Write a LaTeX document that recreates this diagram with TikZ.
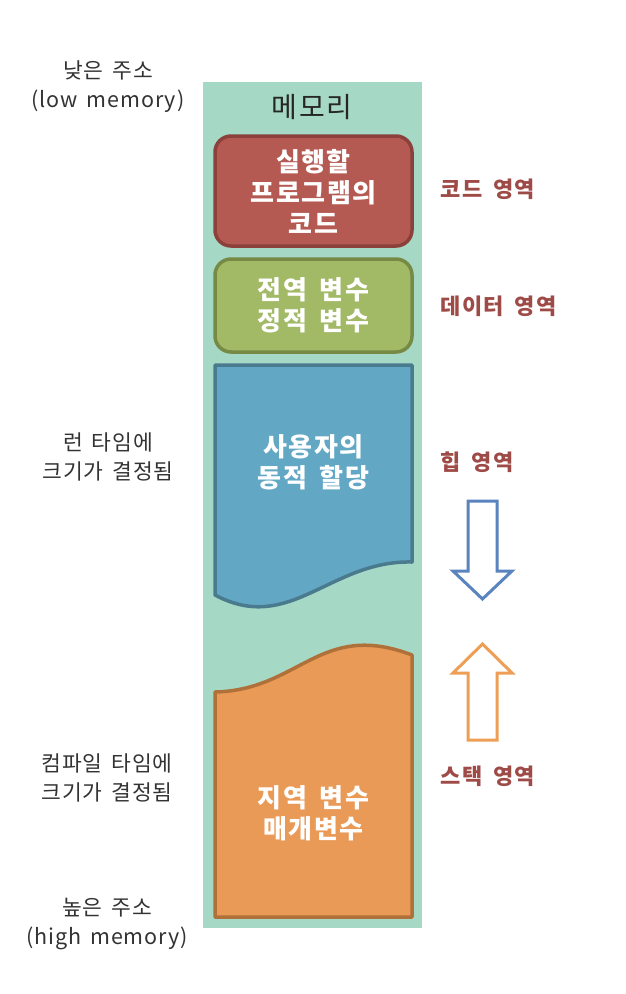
\documentclass[tikz,border=0pt]{standalone}
\usepackage{fontspec}
\setmainfont{Noto Sans CJK KR}
\newfontfamily\krwide[LetterSpace=6,WordSpace=1.7]{Noto Sans CJK KR}
\newfontfamily\krmid[LetterSpace=4,WordSpace=1.6]{Noto Sans CJK KR}
\begin{document}
\begin{tikzpicture}[x=1pt,y=-1pt,
  mem/.style={fill=memc, draw=none},
  boxtext/.style={text=white, font=\krwide\fontsize{26}{31}\selectfont\bfseries, align=center},
  sidelab/.style={text=labc, font=\krwide\fontsize{22}{28}\selectfont\bfseries, anchor=west},
  leftlab/.style={text=black!80, font=\krmid\fontsize{21.5}{29}\selectfont, align=center},
  blockline/.style={line width=3.5pt, line join=round},
  arrowline/.style={line width=3pt, fill=white, line join=miter}]
\definecolor{memc}{HTML}{A6D9C5}
\definecolor{redc}{HTML}{B55A53}
\definecolor{redb}{HTML}{8B403B}
\definecolor{greenc}{HTML}{A2B966}
\definecolor{greenb}{HTML}{768A46}
\definecolor{bluec}{HTML}{62A8C5}
\definecolor{blueb}{HTML}{4A7A8E}
\definecolor{orangec}{HTML}{EA9A57}
\definecolor{orangeb}{HTML}{B07039}
\definecolor{arrb}{HTML}{5A84C0}
\definecolor{arro}{HTML}{EE9F55}
\definecolor{labc}{HTML}{9E4A47}
\useasboundingbox (0,0) rectangle (626,994);
\fill[white] (0,0) rectangle (626,994);
% memory column
\node[mem, minimum width=219pt, minimum height=846pt, anchor=north west, inner sep=0pt] (memory) at (203,82) {};
\node[font=\krwide\fontsize{28}{30}\selectfont, text=black!85] (title) at (312,107) {메모리};
% code box
\draw[blockline, fill=redc, draw=redb, rounded corners=16pt] (215,136) rectangle (412,246);
\node[boxtext] (code) at (313.5,191) {실행할\\프로그램의\\코드};
% data box
\draw[blockline, fill=greenc, draw=greenb, rounded corners=16pt] (215,259) rectangle (412,352);
\node[boxtext] (data) at (313.5,305) {전역 변수\\정적 변수};
% heap
\draw[blockline, fill=bluec, draw=blueb] (215,365) -- (412,365) -- (412,562)
  .. controls (330,560) and (290,635) .. (215,595) -- cycle;
\node[boxtext] (heap) at (313.5,462) {사용자의\\동적 할당};
% stack
\draw[blockline, fill=orangec, draw=orangeb] (215,917) -- (215,692)
  .. controls (300,690) and (320,620) .. (412,655) -- (412,917) -- cycle;
\node[boxtext] (stack) at (313.5,813) {지역 변수\\매개변수};
% arrows
\draw[arrowline, draw=arrb] (468,501) -- (497,501) -- (497,571) -- (512,571) -- (482.5,599) -- (453,571) -- (468,571) -- cycle;
\draw[arrowline, draw=arro] (482.5,644) -- (512,673) -- (497,673) -- (497,740) -- (468,740) -- (468,673) -- (453,673) -- cycle;
% right labels
\node[sidelab] (lcode) at (437,189) {코드 영역};
\node[sidelab] (ldata) at (437,306) {데이터 영역};
\node[sidelab] (lheap) at (437,462) {힙 영역};
\node[sidelab] (lstack) at (437,776) {스택 영역};
% left labels
\node[leftlab] (low) at (108,87) {낮은 주소\\(low memory)};
\node[leftlab] (runtime) at (108,457) {런 타임에\\크기가 결정됨};
\node[leftlab] (compile) at (107,778) {컴파일 타임에\\크기가 결정됨};
\node[leftlab] (high) at (107,924) {높은 주소\\(high memory)};
\end{tikzpicture}
\end{document}
